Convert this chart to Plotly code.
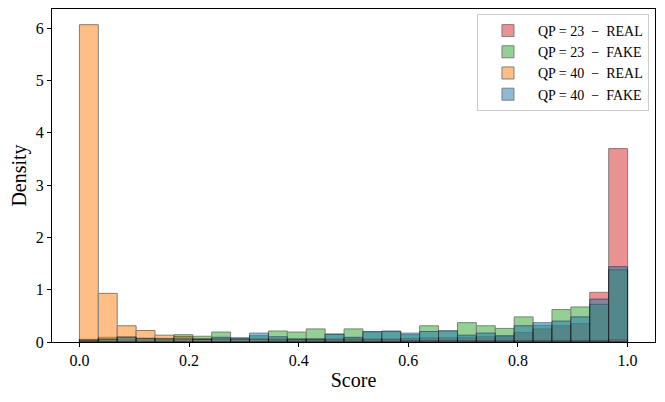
import numpy as np
import plotly.graph_objects as go

# histogram data (density per bin, 29 bins over [0, 1])
bin_edges = np.linspace(0.0, 1.0, 30)

qp23_real = [0.05, 0.06, 0.05, 0.05, 0.05, 0.05, 0.05, 0.05, 0.05, 0.06,
             0.06, 0.05, 0.05, 0.06, 0.07, 0.06, 0.06, 0.07, 0.08, 0.08,
             0.09, 0.10, 0.10, 0.18, 0.25, 0.31, 0.35, 0.95, 3.70]
qp23_fake = [0.05, 0.09, 0.10, 0.07, 0.07, 0.14, 0.11, 0.19, 0.07, 0.12,
             0.21, 0.19, 0.25, 0.15, 0.25, 0.19, 0.20, 0.14, 0.31, 0.20,
             0.37, 0.31, 0.26, 0.48, 0.32, 0.62, 0.67, 0.72, 1.38]
qp40_real = [6.07, 0.93, 0.31, 0.22, 0.13, 0.10, 0.06, 0.06, 0.05, 0.05,
             0.04, 0.04, 0.04, 0.04, 0.04, 0.04, 0.04, 0.03, 0.03, 0.03,
             0.03, 0.03, 0.03, 0.03, 0.03, 0.03, 0.03, 0.03, 0.04]
qp40_fake = [0.03, 0.05, 0.09, 0.07, 0.06, 0.06, 0.05, 0.09, 0.08, 0.17,
             0.10, 0.06, 0.06, 0.15, 0.09, 0.20, 0.21, 0.17, 0.20, 0.22,
             0.13, 0.17, 0.12, 0.31, 0.37, 0.40, 0.48, 0.82, 1.44]

labels = [
    "QP = 23\u2002−\u2002REAL",
    "QP = 23\u2002−\u2002FAKE",
    "QP = 40\u2002−\u2002REAL",
    "QP = 40\u2002−\u2002FAKE",
]
colors = ["#d62728", "#2ca02c", "#ff7f0e", "#1f77b4"]
values = [qp23_real, qp23_fake, qp40_real, qp40_fake]

centers = (bin_edges[:-1] + bin_edges[1:]) / 2
width = bin_edges[1] - bin_edges[0]

fig = go.Figure()
for name, vals, col in zip(labels, values, colors):
    fig.add_trace(go.Bar(
        x=centers,
        y=vals,
        width=width,
        name=name,
        opacity=0.5,
        marker=dict(color=col, line=dict(color="black", width=1)),
    ))

font_family = "Liberation Serif, DejaVu Serif, serif"

# page body has an 8px margin, so the figure is sized a bit smaller
fig.update_layout(
    width=657,
    height=394,
    barmode="overlay",
    plot_bgcolor="white",
    paper_bgcolor="white",
    font=dict(family=font_family, size=16, color="black"),
    margin=dict(l=44, r=10, t=1, b=60),
    legend=dict(
        x=0.99, y=0.985,
        xanchor="right", yanchor="top",
        bgcolor="rgba(255,255,255,0.8)",
        bordercolor="#cccccc",
        borderwidth=1,
        font=dict(size=14),
        tracegroupgap=0,
        itemwidth=50,
    ),
)

fig.update_xaxes(
    range=[-0.05, 1.05],
    tickvals=[0.0, 0.2, 0.4, 0.6, 0.8, 1.0],
    tickformat=".1f",
    ticks="outside", ticklen=4, tickcolor="black",
    showline=True, linecolor="black", linewidth=1, mirror=True,
    showgrid=False, zeroline=False,
    title=dict(text="Score", font=dict(size=20), standoff=4),
)
fig.update_yaxes(
    range=[0, 6.37],
    tickvals=[0, 1, 2, 3, 4, 5, 6],
    ticks="outside", ticklen=4, tickcolor="black",
    showline=True, linecolor="black", linewidth=1, mirror=True,
    showgrid=False, zeroline=False,
    title=dict(text="Density", font=dict(size=20), standoff=6),
)

fig.write_html("out.html")
